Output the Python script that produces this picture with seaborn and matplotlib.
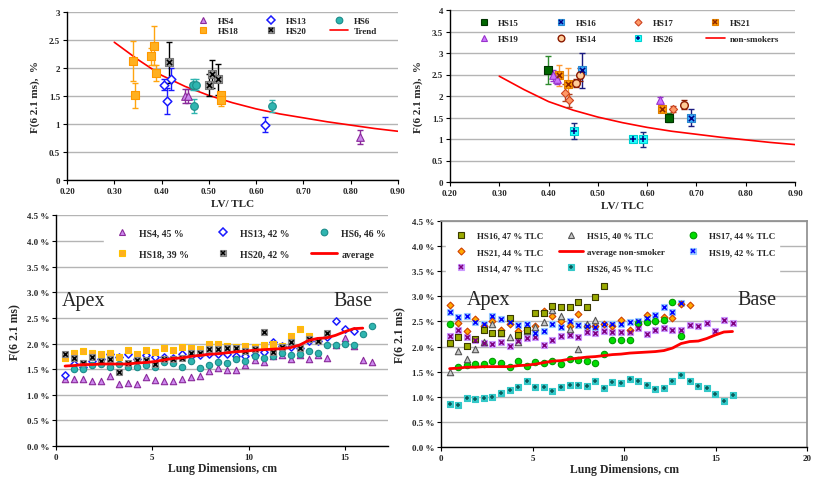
import matplotlib
matplotlib.use("Agg")
import matplotlib.pyplot as plt
import seaborn as sns
from matplotlib.lines import Line2D
from matplotlib.ticker import FuncFormatter
from matplotlib.legend_handler import HandlerTuple

# ---------------- top-left: non-smokers vs LV/TLC ----------------
hs4_x = [0.450, 0.456, 0.820]
hs4_y = [1.50, 1.50, 0.77]
hs4_e = [0.12, 0.12, 0.12]
hs13_x = [0.406, 0.412, 0.419, 0.619]
hs13_y = [1.70, 1.41, 1.80, 0.99]
hs13_e = [0.10, 0.24, 0.20, 0.13]
hs6_x = [0.466, 0.472, 0.469, 0.633]
hs6_y = [1.70, 1.70, 1.32, 1.32]
hs6_e = [0.10, 0.10, 0.12, 0.11]
hs18_x = [0.339, 0.344, 0.378, 0.384, 0.388, 0.526, 0.526]
hs18_y = [2.12, 1.51, 2.21, 2.40, 1.91, 1.51, 1.42]
hs18_e = [0.36, 0.22, 0.15, 0.35, 0.14, 0.07, 0.10]
hs20_x = [0.416, 0.500, 0.507, 0.519]
hs20_y = [2.10, 1.70, 1.90, 1.80]
hs20_e = [0.36, 0.20, 0.25, 0.28]
trend_x = [0.30, 0.35, 0.40, 0.45, 0.50, 0.55, 0.60, 0.65, 0.70, 0.75, 0.80, 0.85, 0.90]
trend_y = [2.46, 2.15, 1.87, 1.67, 1.51, 1.38, 1.27, 1.18, 1.11, 1.04, 0.98, 0.92, 0.87]

# ---------------- top-right: smokers vs LV/TLC ----------------
s15_x, s15_y, s15_e = [0.399, 0.645], [2.60, 1.50], [0.32, 0.10]
s16_x, s16_y, s16_e = [0.467, 0.689], [2.60, 1.50], [0.41, 0.20]
s17_x, s17_y, s17_e = [0.434, 0.441, 0.652], [2.08, 1.90, 1.70], [0.20, 0.15, 0.07]
s21_x, s21_y, s21_e = [0.422, 0.440, 0.631], [2.48, 2.28, 1.70], [0.25, 0.38, 0.06]
s19_x, s19_y, s19_e = [0.408, 0.417, 0.627], [2.48, 2.39, 1.90], [0.13, 0.10, 0.07]
s14_x, s14_y, s14_e = [0.455, 0.464, 0.675], [2.30, 2.50, 1.80], [0.10, 0.15, 0.10]
s26_x, s26_y, s26_e = [0.452, 0.571, 0.591], [1.19, 0.99, 0.99], [0.18, 0.07, 0.18]

# ---------------- bottom panels: profiles along the lung ----------------
pos_cm = [0.47, 0.94, 1.41, 1.87, 2.34, 2.81, 3.28, 3.75, 4.22, 4.69,
          5.15, 5.62, 6.09, 6.56, 7.03, 7.50, 7.97, 8.43, 8.90, 9.37,
          9.84, 10.31, 10.78, 11.25, 11.71, 12.18, 12.65, 13.12, 13.59, 14.06,
          14.52, 14.99, 15.46, 15.93, 16.40]

p_hs4 = [1.31, 1.30, 1.31, 1.26, 1.26, 1.36, 1.21, 1.23, 1.21, 1.34, 1.29, 1.26, 1.26, 1.31, 1.34,
         1.36, 1.46, 1.52, 1.48, 1.48, 1.58, 1.67, 1.64, 1.75, 1.78, 1.70, 1.78, 1.70, 1.77, 1.72,
         1.98, 2.10, 1.96, 1.68, 1.64]
p_hs13 = [1.38, 1.60, 1.55, 1.66, 1.70, 1.80, 1.73, 1.80, 1.70, 1.78, 1.74, 1.73, 1.71, 1.80, 1.76,
          1.77, 1.80, 1.79, 1.79, 1.75, 1.75, 1.78, 1.84, 2.02, 1.95, 1.93, 1.92, 2.05, 2.05, 2.12,
          2.43, 2.28, 2.25]
p_hs6 = [1.50, 1.51, 1.58, 1.60, 1.54, 1.60, 1.55, 1.54, 1.58, 1.54, 1.63, 1.62, 1.55, 1.66, 1.53,
         1.58, 1.64, 1.61, 1.69, 1.65, 1.75, 1.72, 1.76, 1.81, 1.78, 1.80, 1.85, 1.82, 1.97, 1.98,
         2.00, 1.98, 2.18, 2.34]
p_hs18 = [1.71, 1.81, 1.85, 1.82, 1.79, 1.82, 1.74, 1.87, 1.79, 1.87, 1.84, 1.92, 1.87, 1.93, 1.92,
          1.90, 2.00, 2.00, 1.95, 1.94, 1.95, 1.93, 1.97, 2.00, 1.95, 2.14, 2.29, 2.14]
p_hs20 = [1.79, 1.71, 1.61, 1.74, 1.66, 1.69, 1.45, 1.62, 1.68, 1.68, 1.60, 1.69, 1.69, 1.72, 1.82,
          1.82, 1.89, 1.89, 1.92, 1.92, 1.85, 1.90, 2.23, 1.84, 1.94, 2.03, 1.92, 2.08, 2.05, 2.21]
p_avg = [1.56, 1.57, 1.59, 1.59, 1.60, 1.60, 1.60, 1.60, 1.62, 1.63, 1.65, 1.68, 1.71, 1.72, 1.75,
         1.77, 1.79, 1.80, 1.82, 1.84, 1.85, 1.87, 1.88, 1.89, 1.90, 1.92, 1.97, 2.06, 2.10, 2.11,
         2.16, 2.23, 2.29, 2.30]

q_hs16 = [2.08, 2.20, 2.02, 2.15, 2.32, 2.26, 2.26, 2.57, 2.24, 2.33, 2.67, 2.66, 2.80, 2.79, 2.78,
          2.89, 2.78, 2.99, 3.21]
q_hs15 = [1.50, 1.91, 1.75, 1.95, 2.10, 2.45, 2.27, 2.20, 2.10, 2.30, 2.38, 2.48, 2.73, 2.60, 2.34,
          1.96, 2.45, 2.52]
q_hs17 = [2.45, 1.59, 1.64, 1.65, 1.65, 1.71, 1.68, 1.59, 1.72, 1.62, 1.69, 1.67, 1.71, 1.65, 1.75,
          1.74, 1.71, 1.67, 1.85, 2.14, 2.14, 2.14, 2.47, 2.48, 2.50, 2.52, 2.89, 2.22]
q_hs21 = [2.83, 2.46, 2.31, 2.54, 2.40, 2.50, 2.33, 2.45, 2.30, 2.33, 2.40, 2.71, 2.60, 2.50, 2.40,
          2.65, 2.40, 2.40, 2.45, 2.40, 2.52, 2.32, 2.45, 2.63, 2.50, 2.59, 2.56, 2.84, 2.83]
q_hs19 = [2.69, 2.59, 2.60, 2.48, 2.45, 2.60, 2.55, 2.48, 2.42, 2.44, 2.26, 2.30, 2.44, 2.38, 2.50,
          2.42, 2.40, 2.38, 2.44, 2.45, 2.44, 2.48, 2.50, 2.56, 2.63, 2.79, 2.69, 2.87]
q_hs14 = [2.22, 2.32, 2.20, 2.13, 2.08, 2.05, 2.09, 2.02, 2.12, 2.17, 2.20, 2.03, 2.14, 2.22, 2.23,
          2.20, 2.28, 2.27, 2.31, 2.28, 2.29, 2.29, 2.37, 2.25, 2.33, 2.36, 2.33, 2.33, 2.42, 2.40,
          2.47, 2.30, 2.52, 2.46]
q_hs26 = [0.86, 0.83, 0.97, 0.95, 0.98, 0.99, 1.07, 1.14, 1.20, 1.32, 1.20, 1.20, 1.12, 1.20, 1.23,
          1.23, 1.22, 1.32, 1.17, 1.30, 1.27, 1.36, 1.31, 1.23, 1.15, 1.17, 1.32, 1.44, 1.32, 1.22,
          1.18, 1.05, 0.91, 1.04]

sns.set_theme(style="white")
plt.rcParams['font.family'] = ['Liberation Serif', 'DejaVu Serif']
GRID = '#b4b4b4'


def style_axes(ax):
    ax.grid(axis='y', color=GRID, lw=1.0)
    ax.set_axisbelow(True)
    for s in ('top', 'right'):
        ax.spines[s].set_visible(False)
    for s in ('left', 'bottom'):
        ax.spines[s].set_color('black')
        ax.spines[s].set_linewidth(1.0)
    ax.tick_params(axis='both', which='major', length=3, width=0.8, color='black',
                   direction='out', pad=2, bottom=True, left=True)
    for lab in ax.get_xticklabels() + ax.get_yticklabels():
        lab.set_fontweight('bold')


def series(ax, x, y, err, marker, face, edge, ms, ecolor=None, over=None, over_color=None, lw=0.8):
    if err is not None:
        ax.errorbar(x, y, yerr=err, fmt='none', ecolor=ecolor, elinewidth=1.0,
                    capsize=2.5, capthick=1.0, zorder=2)
    sns.scatterplot(x=x, y=y, marker=marker, s=ms ** 2, color=face, edgecolor=edge,
                    linewidth=lw, ax=ax, legend=False, zorder=3)
    if over is not None:
        sns.scatterplot(x=x, y=y, marker=over, s=(ms * 0.7) ** 2, color=over_color,
                        linewidth=1.1, ax=ax, legend=False, zorder=4)


def handle(marker, face, edge, ms, over=None, over_color=None, lw=0.8):
    h = Line2D([], [], ls='none', marker=marker, markerfacecolor=face,
               markeredgecolor=edge, markersize=ms, markeredgewidth=lw)
    if over is None:
        return h
    h2 = Line2D([], [], ls='none', marker=over, color=over_color,
                markersize=ms * 0.7, markeredgewidth=1.1)
    return (h, h2)


def col_order(items, nrows):
    # legend fills columns first; reorder a row-wise list
    ncol = (len(items) + nrows - 1) // nrows
    out = []
    for c in range(ncol):
        for r in range(nrows):
            i = r * ncol + c
            if i < len(items):
                out.append(items[i])
    return out


fig = plt.figure(figsize=(8.17, 4.81), dpi=100)
W, H = 817, 481
ax1 = fig.add_axes([67 / W, 1 - 181 / H, 331 / W, 168 / H])
ax2 = fig.add_axes([450 / W, 1 - 183 / H, 345 / W, 172 / H])
ax3 = fig.add_axes([56 / W, 1 - 447 / H, 332 / W, 230.6 / H])
ax4 = fig.add_axes([441 / W, 1 - 448 / H, 366 / W, 226 / H])

# ---- panel 1 ----
ms = 5.5
lm = 4.8
series(ax1, hs4_x, hs4_y, hs4_e, '^', '#cc88ee', '#8a2a9a', ms, '#8a2a9a')
series(ax1, hs13_x, hs13_y, hs13_e, 'D', 'white', '#1a1aff', ms * 0.8, '#1a1aff', lw=1.1)
series(ax1, hs6_x, hs6_y, hs6_e, 'o', '#2fb5b0', '#1c8c8a', ms, '#2fb5b0')
series(ax1, hs18_x, hs18_y, hs18_e, 's', '#ffb020', '#ff9900', ms, '#ffa510')
series(ax1, hs20_x, hs20_y, hs20_e, 's', '#999999', '#777777', ms, 'black', 'x', 'black')
sns.lineplot(x=trend_x, y=trend_y, color='#ff0000', lw=1.2, ax=ax1, legend=False, zorder=1)
ax1.set_xlim(0.2, 0.9)
ax1.set_ylim(0, 3)
ax1.set_xticks([0.2, 0.3, 0.4, 0.5, 0.6, 0.7, 0.8, 0.9])
ax1.set_yticks([0, 0.5, 1, 1.5, 2, 2.5, 3])
ax1.xaxis.set_major_formatter(FuncFormatter(lambda v, p: f"{v:.2f}"))
ax1.yaxis.set_major_formatter(FuncFormatter(lambda v, p: f"{v:g}"))
ax1.tick_params(labelsize=6.5)
style_axes(ax1)
ax1.set_xlabel("LV/ TLC", fontsize=8, fontweight='bold', labelpad=3)
ax1.set_ylabel("F(6 2.1 ms),  %", fontsize=8, fontweight='bold', labelpad=6)

items = [(handle('^', '#cc88ee', '#8a2a9a', lm), 'HS4'),
         (handle('D', 'white', '#1a1aff', lm * 0.8, lw=1.1), 'HS13'),
         (handle('o', '#2fb5b0', '#1c8c8a', lm), 'HS6'),
         (handle('s', '#ffb020', '#ff9900', lm), 'HS18'),
         (handle('s', '#999999', '#777777', lm, 'x', 'black'), 'HS20'),
         (Line2D([], [], color='#ff0000', lw=1.2), 'Trend')]
items = col_order(items, 2)
ax1.legend([i[0] for i in items], [i[1] for i in items], ncol=3, loc='upper left',
           bbox_to_anchor=(0.36, 1.02), frameon=False, handlelength=2.0, handletextpad=0.6,
           columnspacing=2.6, labelspacing=0.15, prop={'size': 6.5, 'weight': 'bold'},
           handler_map={tuple: HandlerTuple(ndivide=1)})

# ---- panel 2 ----
series(ax2, s15_x, s15_y, s15_e, 's', '#006600', '#003300', ms, '#2e8b2e')
series(ax2, s16_x, s16_y, s16_e, 's', '#3aaaff', '#2a8ad0', ms, '#1a1a80', 'x', '#000080')
series(ax2, s17_x, s17_y, s17_e, 'D', '#ff9966', '#cc4422', ms * 0.75, '#b04020')
series(ax2, s21_x, s21_y, s21_e, 's', '#ff9900', '#e08000', ms, '#ff9933', 'x', '#8b2500')
series(ax2, s19_x, s19_y, s19_e, '^', '#cc77ff', '#9933cc', ms, '#9933cc')
series(ax2, s14_x, s14_y, s14_e, 'o', '#ffcc99', '#8b1a00', ms, '#8b1a00', lw=1.0)
series(ax2, s26_x, s26_y, s26_e, 's', '#22ffff', '#00d0d0', ms, '#1a2a80', '+', '#000080')
sns.lineplot(x=trend_x, y=trend_y, color='#ff0000', lw=1.2, ax=ax2, legend=False, zorder=1)
ax2.set_xlim(0.2, 0.9)
ax2.set_ylim(0, 4)
ax2.set_xticks([0.2, 0.3, 0.4, 0.5, 0.6, 0.7, 0.8, 0.9])
ax2.set_yticks([0, 0.5, 1, 1.5, 2, 2.5, 3, 3.5, 4])
ax2.xaxis.set_major_formatter(FuncFormatter(lambda v, p: f"{v:.2f}"))
ax2.yaxis.set_major_formatter(FuncFormatter(lambda v, p: f"{v:g}"))
ax2.tick_params(labelsize=6.5)
style_axes(ax2)
ax2.set_xlabel("LV/ TLC", fontsize=8, fontweight='bold', labelpad=3)
ax2.set_ylabel("F(6 2.1 ms),  %", fontsize=8, fontweight='bold', labelpad=6)

items = [(handle('s', '#006600', '#003300', lm), 'HS15'),
         (handle('s', '#3aaaff', '#2a8ad0', lm, 'x', '#000080'), 'HS16'),
         (handle('D', '#ff9966', '#cc4422', lm * 0.75), 'HS17'),
         (handle('s', '#ff9900', '#e08000', lm, 'x', '#8b2500'), 'HS21'),
         (handle('^', '#cc77ff', '#9933cc', lm), 'HS19'),
         (handle('o', '#ffcc99', '#8b1a00', lm, lw=1.0), 'HS14'),
         (handle('s', '#22ffff', '#00d0d0', lm, '+', '#000080'), 'HS26'),
         (Line2D([], [], color='#ff0000', lw=1.2), 'non-smokers')]
items = col_order(items, 2)
ax2.legend([i[0] for i in items], [i[1] for i in items], ncol=4, loc='upper left',
           bbox_to_anchor=(0.048, 0.995), frameon=False, handlelength=2.0, handletextpad=0.6,
           columnspacing=3.65, labelspacing=0.85, prop={'size': 6.5, 'weight': 'bold'},
           handler_map={tuple: HandlerTuple(ndivide=1)})

# ---- panel 3 ----
pct = FuncFormatter(lambda v, p: f"{v:.1f} %")
bm = 4.6
series(ax3, pos_cm[:len(p_hs4)], p_hs4, None, '^', '#cc88ee', '#8a2a9a', bm)
series(ax3, pos_cm[:len(p_hs13)], p_hs13, None, 'D', 'white', '#1a1aff', bm * 0.8, lw=1.1)
series(ax3, pos_cm[1:1 + len(p_hs6)], p_hs6, None, 'o', '#2fb5b0', '#1c8c8a', bm)
series(ax3, pos_cm[:len(p_hs18)], p_hs18, None, 's', '#ffb020', '#ffc000', bm)
series(ax3, pos_cm[:len(p_hs20)], p_hs20, None, 's', '#999999', '#888888', bm,
       over='x', over_color='black')
sns.lineplot(x=pos_cm[:len(p_avg)], y=p_avg, color='#ff0000', lw=2.0, ax=ax3, legend=False, zorder=5)
ax3.set_xlim(0, 17.24)
ax3.set_ylim(0, 4.5)
ax3.set_xticks([0, 5, 10, 15])
ax3.set_yticks([0, 0.5, 1, 1.5, 2, 2.5, 3, 3.5, 4, 4.5])
ax3.yaxis.set_major_formatter(pct)
ax3.tick_params(labelsize=6.5)
style_axes(ax3)
ax3.set_xlabel("Lung Dimensions, cm", fontsize=8.5, fontweight='bold', labelpad=1)
ax3.set_ylabel("F(6 2.1 ms)", fontsize=8.5, fontweight='bold', labelpad=4)
ax3.text(0.3, 2.76, "Apex", fontsize=14.5)
ax3.text(14.4, 2.76, "Base", fontsize=14.5)

items = [(handle('^', '#cc88ee', '#8a2a9a', lm), 'HS4, 45 %'),
         (handle('D', 'white', '#1a1aff', lm * 0.8, lw=1.1), 'HS13, 42 %'),
         (handle('o', '#2fb5b0', '#1c8c8a', lm), 'HS6, 46 %'),
         (handle('s', '#ffb020', '#ffc000', lm), 'HS18, 39 %'),
         (handle('s', '#999999', '#888888', lm, 'x', 'black'), 'HS20, 42 %'),
         (Line2D([], [], color='#ff0000', lw=2.0), 'average')]
items = col_order(items, 2)
leg3 = ax3.legend([i[0] for i in items], [i[1] for i in items], ncol=3, loc='upper left',
                  bbox_to_anchor=(0.13, 0.985), frameon=True, handlelength=2.6, handletextpad=0.5,
                  columnspacing=2.2, labelspacing=1.25, borderpad=0.5,
                  prop={'size': 7, 'weight': 'bold'},
                  handler_map={tuple: HandlerTuple(ndivide=1)})
leg3.get_frame().set_edgecolor('white')
leg3.get_frame().set_facecolor('white')
leg3.get_frame().set_alpha(1)
leg3.get_frame().set_boxstyle('square', pad=0)

# ---- panel 4 ----
series(ax4, pos_cm[:len(q_hs26)], q_hs26, None, 's', '#33c8c8', '#33c8c8', bm,
       over='+', over_color='#0b5a5a')
series(ax4, pos_cm[:len(q_hs14)], q_hs14, None, 's', '#cc99ff', '#cc99ff', bm,
       over='x', over_color='#800080')
series(ax4, pos_cm[:len(q_hs19)], q_hs19, None, 's', '#99ccff', '#99ccff', bm,
       over='x', over_color='#0000ff')
series(ax4, pos_cm[:len(q_hs21)], q_hs21, None, 'D', '#ffaa00', '#d04000', bm * 0.75)
series(ax4, pos_cm[:len(q_hs17)], q_hs17, None, 'o', '#00dd00', '#009900', bm)
series(ax4, pos_cm[:len(q_hs15)], q_hs15, None, '^', '#c8c8c8', '#555555', bm)
series(ax4, pos_cm[:len(q_hs16)], q_hs16, None, 's', '#9aaa00', '#3a3a00', bm)
sns.lineplot(x=pos_cm[:len(p_avg)], y=p_avg, color='#ff0000', lw=2.0, ax=ax4, legend=False, zorder=5)
ax4.set_xlim(0, 20)
ax4.set_ylim(0, 4.5)
ax4.set_xticks([0, 5, 10, 15, 20])
ax4.set_yticks([0, 0.5, 1, 1.5, 2, 2.5, 3, 3.5, 4, 4.5])
ax4.yaxis.set_major_formatter(pct)
ax4.tick_params(labelsize=6.5)
style_axes(ax4)
for s in ('top', 'right'):
    ax4.spines[s].set_visible(True)
    ax4.spines[s].set_color('#909090')
ax4.set_xlabel("Lung Dimensions, cm", fontsize=8.5, fontweight='bold', labelpad=1)
ax4.set_ylabel("F(6 2.1 ms)", fontsize=8.5, fontweight='bold', labelpad=4)
ax4.text(1.4, 2.85, "Apex", fontsize=14.5)
ax4.text(16.2, 2.85, "Base", fontsize=14.5)

items = [(handle('s', '#9aaa00', '#3a3a00', lm), 'HS16, 47 % TLC'),
         (handle('^', '#c8c8c8', '#555555', lm), 'HS15, 40 % TLC'),
         (handle('o', '#00dd00', '#009900', lm), 'HS17, 44 % TLC'),
         (handle('D', '#ffaa00', '#d04000', lm * 0.75), 'HS21, 44 % TLC'),
         (Line2D([], [], color='#ff0000', lw=2.0), 'average non-smoker'),
         (handle('s', '#99ccff', '#99ccff', lm, 'x', '#0000ff'), 'HS19, 42 % TLC'),
         (handle('s', '#cc99ff', '#cc99ff', lm, 'x', '#800080'), 'HS14, 47 % TLC'),
         (handle('s', '#33c8c8', '#33c8c8', lm, '+', '#0b5a5a'), 'HS26, 45 % TLC')]
items = col_order(items, 3)
leg4 = ax4.legend([i[0] for i in items], [i[1] for i in items], ncol=3, loc='upper left',
                  bbox_to_anchor=(0.0, 0.99), frameon=True, handlelength=2.6, handletextpad=0.5,
                  columnspacing=1.75, labelspacing=0.9, borderpad=0.4,
                  prop={'size': 6.5, 'weight': 'bold'},
                  handler_map={tuple: HandlerTuple(ndivide=1)})
leg4.get_frame().set_edgecolor('white')
leg4.get_frame().set_facecolor('white')
leg4.get_frame().set_alpha(1)
leg4.get_frame().set_boxstyle('square', pad=0)

fig.savefig("out.png", dpi=100)
